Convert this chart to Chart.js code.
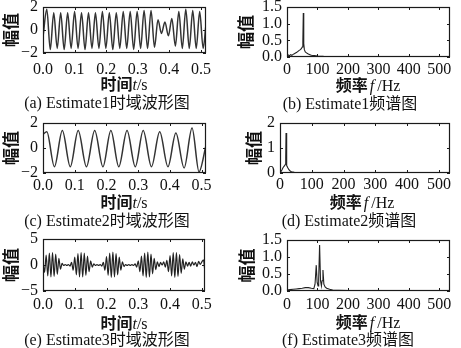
<!DOCTYPE html>
<html lang="zh">
<head>
<meta charset="utf-8">
<title>Estimate 时域波形图与频谱图</title>
<script src="https://cdn.jsdelivr.net/npm/chart.js@4.4.1/dist/chart.umd.min.js"></script>
<style>
  body { margin: 0; background: #fff; }
  #wrap { position: relative; width: 461px; height: 348px; overflow: hidden; background: #fff; }
  #wrap canvas { position: absolute; }
  .lbl {
    position: absolute; transform: translate(-50%, -50%); white-space: nowrap; color: #111;
    font: 16px "Liberation Serif", "Noto Sans CJK SC", serif; line-height: 1;
  }
  .lbl b { font-family: "Noto Sans CJK SC", sans-serif; font-weight: 700; }
  .lbl i { font-family: "Liberation Serif", serif; }
</style>
</head>
<body>
<div id="wrap">
  <canvas id="cA" width="225" height="80" style="left:0;top:0"></canvas>
  <canvas id="cB" width="229" height="80" style="left:232px;top:0"></canvas>
  <canvas id="cC" width="225" height="80" style="left:0;top:116px"></canvas>
  <canvas id="cD" width="229" height="80" style="left:232px;top:116px"></canvas>
  <canvas id="cE" width="225" height="80" style="left:0;top:232px"></canvas>
  <canvas id="cF" width="229" height="80" style="left:232px;top:232px"></canvas>

  <div class="lbl" style="left:124px;top:84px"><b>时间</b><i>t</i>/s</div>
  <div class="lbl" style="left:107px;top:103px">(a) Estimate1时域波形图</div>
  <div class="lbl" style="left:368px;top:85px"><b>频率</b><i style="margin:0 3px 0 2px">f</i>/Hz</div>
  <div class="lbl" style="left:350px;top:104px">(b) Estimate1频谱图</div>

  <div class="lbl" style="left:124px;top:202px"><b>时间</b><i>t</i>/s</div>
  <div class="lbl" style="left:107px;top:221px">(c) Estimate2时域波形图</div>
  <div class="lbl" style="left:362px;top:202px"><b>频率</b><i style="margin:0 3px 0 2px">f</i>/Hz</div>
  <div class="lbl" style="left:349px;top:221px">(d) Estimate2频谱图</div>

  <div class="lbl" style="left:124px;top:323px"><b>时间</b><i>t</i>/s</div>
  <div class="lbl" style="left:107px;top:340px">(e) Estimate3时域波形图</div>
  <div class="lbl" style="left:368px;top:322px"><b>频率</b><i style="margin:0 3px 0 2px">f</i>/Hz</div>
  <div class="lbl" style="left:348px;top:340px">(f) Estimate3频谱图</div>
</div>

<script>
// 刻度
const timeTicks = [0, 0.1, 0.2, 0.3, 0.4, 0.5];
const freqTicks = [0, 100, 200, 300, 400, 500];
const yTicksA = [-2, 0, 2];
const yTicksB = [0, 0.5, 1.0, 1.5];
const yTicksC = [-2, 0, 2];
const yTicksD = [0, 1, 2];
const yTicksE = [-5, 0, 5];
const yTicksF = [0, 0.5, 1.0, 1.5];

// (a) Estimate1 时域波形 (峰谷点)
const timeA = [0, 0.012, 0.023, 0.034, 0.045, 0.056, 0.067, 0.078, 0.089, 0.100,
  0.111, 0.122, 0.133, 0.144, 0.155, 0.166, 0.177, 0.188, 0.199, 0.210,
  0.221, 0.232, 0.243, 0.254, 0.265, 0.276, 0.287, 0.298, 0.309, 0.320,
  0.331, 0.342, 0.353, 0.364, 0.375, 0.386, 0.397, 0.408, 0.419, 0.430,
  0.441, 0.452, 0.463, 0.474, 0.485, 0.496, 0.507, 0.516];
const ampA = [-0.6, 1.8, -1.7, 1.5, -1.6, 1.5, -1.7, 1.5, -1.6, 1.6,
  -1.6, 1.5, -1.7, 1.5, -1.6, 1.5, -1.6, 1.6, -1.6, 1.5,
  -1.7, 1.5, -1.6, 1.6, -1.6, 1.6, -1.7, 1.6, -1.6, 1.7,
  -1.6, 1.7, -1.5, 0.9, -0.3, 0.7, -0.5, 1.0, -1.4, 1.6,
  -1.6, 1.8, -1.6, 1.7, -1.6, 1.6, -1.6, 0.5];

// (b) Estimate1 频谱
const freqB = [0, 4, 8, 12, 16, 20, 24, 28, 32, 36, 40, 44, 47, 50, 52, 53.5, 55, 57, 60, 63,
  66, 70, 75, 80, 90, 100, 120, 150, 200, 300, 400, 535];
const ampB = [0.03, 0.06, 0.04, 0.07, 0.05, 0.08, 0.1, 0.12, 0.14, 0.17, 0.2, 0.22, 0.25, 0.3, 0.45, 1.32, 0.4, 0.22, 0.15, 0.13,
  0.11, 0.09, 0.07, 0.05, 0.04, 0.03, 0.02, 0.015, 0.01, 0.006, 0.004, 0.003];

// (c) Estimate2 时域波形
const timeC = [0, 0.012, 0.036, 0.061, 0.086, 0.111, 0.137, 0.163, 0.189, 0.214, 0.239,
  0.265, 0.291, 0.316, 0.342, 0.368, 0.394, 0.419, 0.445, 0.470, 0.492, 0.514];
const ampC = [1.1, 1.3, -1.5, 1.4, -1.5, 1.4, -1.5, 1.4, -1.5, 1.4, -1.5,
  1.4, -1.5, 1.4, -1.5, 1.3, -1.5, 1.2, -1.6, 1.6, -1.9, 0.2];

// (d) Estimate2 频谱
const freqD = [0, 3, 6, 9, 12, 15, 17, 18, 19, 20, 22, 25, 28, 32, 36, 45, 60, 100, 200, 535];
const ampD = [0.02, 0.06, 0.12, 0.2, 0.26, 0.3, 0.35, 0.6, 1.6, 0.45, 0.3, 0.2, 0.13, 0.08, 0.05, 0.03, 0.02, 0.01, 0.005, 0.003];

// (e) Estimate3 时域波形
const timeE = [0, 0.005, 0.01, 0.015, 0.02, 0.025, 0.03, 0.035, 0.04, 0.045,
  0.05, 0.055, 0.06, 0.065, 0.07, 0.075, 0.08, 0.085, 0.09, 0.095,
  0.1, 0.105, 0.11, 0.115, 0.12, 0.125, 0.13, 0.135, 0.14, 0.145,
  0.15, 0.155, 0.16, 0.165, 0.17, 0.175, 0.18, 0.185, 0.19, 0.195,
  0.2, 0.205, 0.21, 0.215, 0.22, 0.225, 0.23, 0.235, 0.24, 0.245,
  0.25, 0.255, 0.26, 0.265, 0.27, 0.275, 0.28, 0.285, 0.29, 0.295,
  0.3, 0.305, 0.31, 0.315, 0.32, 0.325, 0.33, 0.335, 0.34, 0.345,
  0.35, 0.355, 0.36, 0.365, 0.37, 0.375, 0.38, 0.385, 0.39, 0.395,
  0.4, 0.405, 0.41, 0.415, 0.42, 0.425, 0.43, 0.435, 0.44, 0.445,
  0.45, 0.455, 0.46, 0.465, 0.47, 0.475, 0.48, 0.485, 0.49, 0.495,
  0.5, 0.505, 0.51];
const ampE = [0.8, -1.4, 1.9, -2.1, 2.3, -2.3, 2.4, -2.2, 2.1, -1.8,
  1.3, -0.8, 0.3, -0.1, 0.1, -0.1, 0.1, -0.2, 0.5, -1.0,
  1.5, -1.9, 2.2, -2.3, 2.4, -2.3, 2.3, -2.0, 1.7, -1.3,
  0.8, -0.4, 0.2, -0.1, 0.1, -0.1, 0.1, -0.2, 0.5, -1.0,
  1.6, -2.0, 2.3, -2.4, 2.5, -2.3, 2.2, -1.9, 1.5, -1.0,
  0.6, -0.3, 0.1, -0.1, 0.1, -0.1, 0.1, -0.1, 0.2, -0.4,
  0.8, -1.3, 1.7, -2.1, 2.3, -2.4, 2.5, -2.3, 2.1, -1.7,
  1.3, -0.9, 0.6, -0.3, 0.5, 0.0, 0.6, -0.4, 0.9, -1.3,
  1.8, -2.1, 2.4, -2.4, 2.4, -2.2, 2.0, -1.6, 1.2, -0.8,
  0.6, -0.2, 0.5, -0.2, 0.6, 0.0, 0.5, -0.3, 0.7, 0.1,
  0.6, 1.0, -1.5];

// (f) Estimate3 频谱
const freqF = [0, 10, 20, 30, 40, 50, 60, 70, 80, 88, 92, 96, 99, 102, 104, 107, 110, 113, 115, 118,
  121, 125, 130, 140, 150, 170, 200, 300, 535];
const ampF = [0.03, 0.04, 0.05, 0.06, 0.07, 0.08, 0.1, 0.1, 0.08, 0.07, 0.2, 0.76, 0.25, 0.15, 0.35, 1.35, 0.3, 0.15, 0.3, 0.62,
  0.2, 0.12, 0.08, 0.05, 0.03, 0.02, 0.01, 0.005, 0.003];

const tickFont = { family: '"Liberation Serif", serif', size: 16 };
const titleFont = { family: '"Noto Sans CJK SC", sans-serif', size: 17, weight: 'bold' };

// 数字格式 (负号用 −)
function fmt(v, dec) {
  return Number(v).toFixed(dec).replace('-', '\u2212');
}

// 外框和向内的刻度线
const framePlugin = {
  id: 'frame',
  afterDatasetsDraw(chart) {
    const { ctx, chartArea: a, scales } = chart;
    ctx.save();
    ctx.strokeStyle = '#1a1a1a';
    ctx.lineWidth = 1.2;
    ctx.strokeRect(a.left + 0.5, a.top + 0.5, a.right - a.left - 1, a.bottom - a.top - 1);
    ctx.lineWidth = 1;
    ctx.beginPath();
    scales.x.ticks.forEach(t => {
      const px = Math.round(scales.x.getPixelForValue(t.value)) + 0.5;
      ctx.moveTo(px, a.bottom); ctx.lineTo(px, a.bottom - 3);
      ctx.moveTo(px, a.top); ctx.lineTo(px, a.top + 3);
    });
    scales.y.ticks.forEach(t => {
      const py = Math.round(scales.y.getPixelForValue(t.value)) + 0.5;
      ctx.moveTo(a.left, py); ctx.lineTo(a.left + 3, py);
      ctx.moveTo(a.right, py); ctx.lineTo(a.right - 3, py);
    });
    ctx.stroke();
    ctx.restore();
  }
};

function drawPanel(id, xs, ys, p) {
  const points = xs.map((x, i) => ({ x: x, y: ys[i] }));
  return new Chart(document.getElementById(id), {
    type: 'line',
    data: {
      datasets: [{
        data: points,
        borderColor: p.color,
        borderWidth: p.lineWidth,
        pointRadius: 0,
        fill: false,
        tension: 0,
        cubicInterpolationMode: p.smooth ? 'monotone' : 'default'
      }]
    },
    options: {
      responsive: false,
      animation: false,
      devicePixelRatio: 1,
      events: [],
      layout: { padding: { left: 0, top: p.top, right: p.right, bottom: 0 } },
      plugins: { legend: { display: false }, tooltip: { enabled: false } },
      scales: {
        x: {
          type: 'linear', min: 0, max: p.xMax,
          grid: { display: false, drawTicks: false }, border: { display: false },
          afterBuildTicks: s => { s.ticks = p.xTicks.map(v => ({ value: v })); },
          afterFit: s => { s.height = p.xHeight; s.paddingLeft = 0; s.paddingRight = 0; },
          ticks: { padding: p.xPad, maxRotation: 0, autoSkip: false, color: '#111', font: tickFont,
                   callback: v => fmt(v, p.xDec) }
        },
        y: {
          type: 'linear', min: p.yTicks[0], max: p.yTicks[p.yTicks.length - 1],
          grid: { display: false, drawTicks: false }, border: { display: false },
          afterBuildTicks: s => { s.ticks = p.yTicks.map(v => ({ value: v })); },
          afterFit: s => { s.width = p.yWidth; s.paddingTop = 0; s.paddingBottom = 0; },
          ticks: { padding: 5, autoSkip: false, color: '#111', font: tickFont,
                   callback: v => fmt(v, p.yDec) },
          title: { display: true, text: '幅值', color: '#111', font: titleFont,
                   padding: { top: p.titlePad, bottom: 0 } }
        }
      }
    },
    plugins: [framePlugin]
  });
}

drawPanel('cA', timeA, ampA, { top: 7, right: 19, yWidth: 43, xHeight: 27, xPad: 7, titlePad: 0,
  xMax: 0.516, xTicks: timeTicks, xDec: 1, yTicks: yTicksA, yDec: 0, smooth: true, lineWidth: 1.5, color: '#333' });
drawPanel('cB', freqB, ampB, { top: 7, right: 11, yWidth: 55, xHeight: 23, xPad: 3, titlePad: 3,
  xMax: 535, xTicks: freqTicks, xDec: 0, yTicks: yTicksB, yDec: 1, smooth: false, lineWidth: 1.1, color: '#222' });
drawPanel('cC', timeC, ampC, { top: 7, right: 19, yWidth: 43, xHeight: 23, xPad: 3.5, titlePad: 0,
  xMax: 0.514, xTicks: timeTicks, xDec: 1, yTicks: yTicksC, yDec: 0, smooth: true, lineWidth: 1.5, color: '#333' });
drawPanel('cD', freqD, ampD, { top: 7, right: 11, yWidth: 48, xHeight: 23, xPad: 2.5, titlePad: 11,
  xMax: 535, xTicks: freqTicks, xDec: 0, yTicks: yTicksD, yDec: 0, smooth: false, lineWidth: 1.1, color: '#222' });
drawPanel('cE', timeE, ampE, { top: 7, right: 20, yWidth: 43, xHeight: 21, xPad: 4.5, titlePad: 0,
  xMax: 0.51, xTicks: timeTicks, xDec: 1, yTicks: yTicksE, yDec: 0, smooth: true, lineWidth: 1.2, color: '#222' });
drawPanel('cF', freqF, ampF, { top: 8, right: 11, yWidth: 55, xHeight: 21, xPad: 4, titlePad: 4,
  xMax: 535, xTicks: freqTicks, xDec: 0, yTicks: yTicksF, yDec: 1, smooth: false, lineWidth: 1.1, color: '#222' });
</script>
</body>
</html>
